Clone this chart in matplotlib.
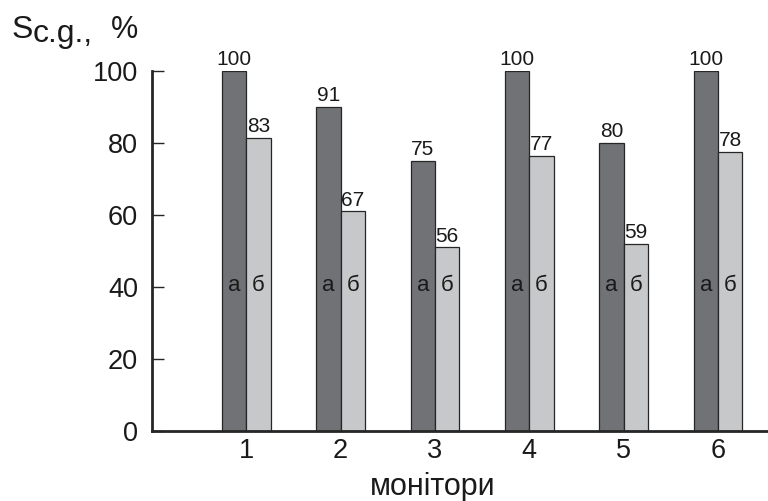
import matplotlib
matplotlib.use("Agg")
import matplotlib.pyplot as plt
import numpy as np

DARK, LIGHT, EDGE, INK = "#717276", "#c7c8ca", "#262626", "#1a1a1a"

monitors = ["1", "2", "3", "4", "5", "6"]
# bar heights as drawn in the figure, and the numbers printed above them
height_a = [100, 90, 75, 100, 80, 100]
height_b = [81.5, 61, 51, 76.5, 52, 77.5]
label_a = ["100", "91", "75", "100", "80", "100"]
label_b = ["83", "67", "56", "77", "59", "78"]
yticks = [0, 20, 40, 60, 80, 100]

plt.rcParams.update({"font.family": ["Liberation Sans", "DejaVu Sans"]})
fig = plt.figure(figsize=(7.68, 5.01), dpi=100)
ax = fig.add_axes([0.1979, 0.1397, 0.8021, 0.7186])

x = np.arange(1, len(monitors) + 1)
w = 0.258
bars_a = ax.bar(x - w / 2, height_a, w, color=DARK, edgecolor=EDGE, lw=0.9)
bars_b = ax.bar(x + w / 2, height_b, w, color=LIGHT, edgecolor=EDGE, lw=0.9)

for bars, labels in ((bars_a, label_a), (bars_b, label_b)):
    for b, lab in zip(bars, labels):
        ax.annotate(lab, (b.get_x() + b.get_width() / 2, b.get_height()),
                    xytext=(0, 4), textcoords="offset points",
                    ha="center", va="baseline", fontsize=15, color=INK)

# series letters inside the bars
for xi in x:
    ax.text(xi - w / 2, 40.5, "а", ha="center", va="center", fontsize=16, color=INK)
    ax.text(xi + w / 2, 40.5, "б", ha="center", va="center", fontsize=16, color=INK)

ax.set_xlim(0, 6.53)
ax.set_ylim(0, 100)
ax.set_xticks(x)
ax.set_xticklabels(monitors)
ax.set_yticks(yticks)
ax.tick_params(axis="x", length=0, pad=5, labelsize=19.5, labelcolor=INK)
ax.tick_params(axis="y", direction="in", length=8.6, width=1.0, pad=10,
               labelsize=19.5, labelcolor=INK, color=EDGE)
for s in ("top", "right"):
    ax.spines[s].set_visible(False)
for s in ("left", "bottom"):
    ax.spines[s].set_linewidth(2.0)
    ax.spines[s].set_color(EDGE)

fig.text(433 / 768, 6 / 501, "монітори", ha="center", va="baseline", fontsize=22, color=INK)

# y-axis title  "Sc.g., %"
fig.text(12 / 768, 1 - 38 / 501, "S", ha="left", va="baseline", fontsize=23, color=INK)
fig.text(33 / 768, 1 - 42 / 501, "c.g.,", ha="left", va="baseline", fontsize=23, color=INK)
fig.text(111 / 768, 1 - 38 / 501, "%", ha="left", va="baseline", fontsize=22, color=INK)

fig.savefig("out.png", dpi=100, facecolor="white")
